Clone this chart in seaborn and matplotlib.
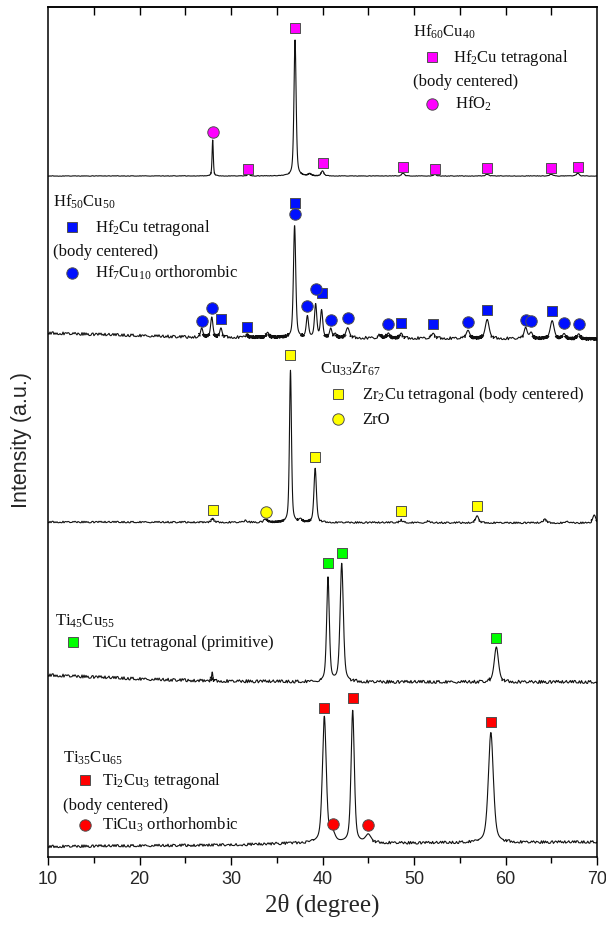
import numpy as np
import pandas as pd
import matplotlib
matplotlib.use("Agg")
import matplotlib.pyplot as plt
import seaborn as sns

# ---------------------------------------------------------------- data
two_theta = np.round(np.arange(10.0, 70.0001, 0.02), 3)

# Hf60Cu40
hf60_bg_pos = [10, 70]
hf60_bg = [681, 681]
hf60_pos = [28.0, 31.9, 37.0, 38.6, 40.0, 48.8, 52.3, 58.0, 65.0, 67.9]
hf60_int = [36, 2, 136, 2, 5, 3, 1.5, 2, 2, 3]
hf60_fwhm = [0.16, 0.3, 0.28, 0.4, 0.35, 0.35, 0.35, 0.35, 0.35, 0.35]
hf60_sq_x = [31.9, 37.0, 40.0, 48.8, 52.3, 58.0, 65.0, 67.9]
hf60_sq_y = [688, 829, 694, 690, 688, 689, 689, 690]
hf60_ci_x = [28.0]
hf60_ci_y = [725]

# Hf50Cu50
hf50_bg_pos = [10, 25, 45, 70]
hf50_bg = [524, 520, 519, 518]
hf50_pos = [26.8, 27.9, 28.9, 31.7, 34.0, 36.95, 38.35, 39.25, 39.9, 40.9, 41.4,
            42.75, 46.3, 47.2, 48.6, 52.1, 55.9, 58.0, 62.2, 62.8, 65.1, 66.4, 68.0]
hf50_int = [9, 20, 9, 3, 5, 112, 21, 33, 27, 9, 4,
            10, 3, 5, 5, 5, 8, 19, 11, 6, 18, 5, 5]
hf50_fwhm = [0.3, 0.3, 0.3, 0.3, 0.35, 0.3, 0.3, 0.3, 0.3, 0.3, 0.3,
             0.45, 0.4, 0.35, 0.35, 0.4, 0.45, 0.5, 0.4, 0.4, 0.5, 0.4, 0.4]
hf50_sq_x = [28.9, 31.7, 36.95, 39.9, 48.6, 52.1, 58.0, 65.1]
hf50_sq_y = [538, 530, 654, 564, 534, 533, 547, 546]
hf50_ci_x = [26.8, 27.9, 36.95, 38.35, 39.25, 40.9, 42.75, 47.2, 55.9, 62.2, 62.8, 66.4, 68.0]
hf50_ci_y = [536, 549, 643, 551, 568, 537, 539, 533, 535, 537, 536, 534, 533]

# Cu33Zr67
zr_bg_pos = [10, 70]
zr_bg = [335, 334]
zr_pos = [28.0, 31.6, 33.8, 36.5, 37.6, 39.2, 48.6, 51.5, 56.9, 64.3, 66.8, 69.7]
zr_int = [4, 2, 3, 152, 3, 54, 3, 1.5, 7, 4, 1.5, 8]
zr_fwhm = [0.35, 0.4, 0.5, 0.26, 0.4, 0.32, 0.35, 0.35, 0.4, 0.4, 0.35, 0.4]
zr_sq_x = [28.0, 36.5, 39.2, 48.6, 56.9]
zr_sq_y = [347, 502, 400, 346, 351]
zr_ci_x = [33.8]
zr_ci_y = [345]

# Ti45Cu55
ti45_bg_pos = [10, 20, 28, 40, 70]
ti45_bg = [182, 178, 176, 175, 175]
ti45_pos = [27.95, 40.6, 42.1, 59.0]
ti45_int = [9, 104, 118, 35]
ti45_fwhm = [0.15, 0.35, 0.42, 0.55]
ti45_sq_x = [40.6, 42.1, 59.0]
ti45_sq_y = [294, 304, 219]

# Ti35Cu65
ti35_bg_pos = [10, 30, 38, 50, 70]
ti35_bg = [10.5, 12, 14, 14, 15]
ti35_pos = [40.2, 41.1, 43.3, 45.0, 58.4]
ti35_int = [126, 9, 132, 8, 110]
ti35_fwhm = [0.5, 0.6, 0.42, 0.7, 0.65]
ti35_sq_x = [40.2, 43.3, 58.4]
ti35_sq_y = [149, 159, 135]
ti35_ci_x = [41.1, 45.0]
ti35_ci_y = [33, 32]


def background(x, bg_pos, bg):
    return np.interp(x, bg_pos, bg).astype(float)


def profile(x, bg_pos, bg, pos, inten, fwhm, eta=0.5):
    """Background plus pseudo-Voigt reflections."""
    y = background(x, bg_pos, bg)
    for p, h, w in zip(pos, inten, fwhm):
        d = (x - p) / (w / 2.0)
        y += h * (eta / (1.0 + d ** 2) + (1 - eta) * np.exp(-np.log(2) * d ** 2))
    return y


# (name, background, profile, counting-noise amplitude in px)
patterns = [
    ("Hf60Cu40", background(two_theta, hf60_bg_pos, hf60_bg),
     profile(two_theta, hf60_bg_pos, hf60_bg, hf60_pos, hf60_int, hf60_fwhm), 0.25),
    ("Hf50Cu50", background(two_theta, hf50_bg_pos, hf50_bg),
     profile(two_theta, hf50_bg_pos, hf50_bg, hf50_pos, hf50_int, hf50_fwhm), 1.4),
    ("Cu33Zr67", background(two_theta, zr_bg_pos, zr_bg),
     profile(two_theta, zr_bg_pos, zr_bg, zr_pos, zr_int, zr_fwhm), 0.8),
    ("Ti45Cu55", background(two_theta, ti45_bg_pos, ti45_bg),
     profile(two_theta, ti45_bg_pos, ti45_bg, ti45_pos, ti45_int, ti45_fwhm), 1.5),
    ("Ti35Cu65", background(two_theta, ti35_bg_pos, ti35_bg),
     profile(two_theta, ti35_bg_pos, ti35_bg, ti35_pos, ti35_int, ti35_fwhm), 1.3),
]

MAGENTA, BLUE, YELLOW, GREEN, RED = "#ff00ff", "#0010ff", "#ffff00", "#00ff00", "#ff0000"
markers = [
    (hf60_sq_x, hf60_sq_y, "s", MAGENTA), (hf60_ci_x, hf60_ci_y, "o", MAGENTA),
    (hf50_sq_x, hf50_sq_y, "s", BLUE), (hf50_ci_x, hf50_ci_y, "o", BLUE),
    (zr_sq_x, zr_sq_y, "s", YELLOW), (zr_ci_x, zr_ci_y, "o", YELLOW),
    (ti45_sq_x, ti45_sq_y, "s", GREEN),
    (ti35_sq_x, ti35_sq_y, "s", RED), (ti35_ci_x, ti35_ci_y, "o", RED),
]

# ---------------------------------------------------------------- style
sns.set_theme(style="ticks")
plt.rcParams.update({
    "font.family": ["Liberation Serif", "DejaVu Serif"],
    "mathtext.fontset": "custom",
    "mathtext.rm": "Liberation Serif",
    "mathtext.it": "Liberation Serif:italic",
    "mathtext.bf": "Liberation Serif:bold",
    "axes.linewidth": 1.1,
    "axes.edgecolor": "black",
})
SANS = ["Liberation Sans", "DejaVu Sans"]

fig = plt.figure(figsize=(6.06, 9.32), dpi=100)
ax = fig.add_axes([48 / 606, 1 - 857 / 932, 549 / 606, 850 / 932])


def dilate(mask, n):
    return np.convolve(mask.astype(int), np.ones(2 * n + 1, int), mode="same") > 0


def draw_runs(mask, x, y, noise):
    """Draw contiguous runs of the masked curve, optionally with a noisy stroke."""
    seg = np.cumsum(np.r_[0, np.diff(mask.astype(int)) != 0])
    df = pd.DataFrame({"two_theta": x, "intensity": y, "seg": seg})[mask]
    n0 = len(ax.lines)
    sns.lineplot(data=df, x="two_theta", y="intensity", units="seg", ax=ax,
                 color="#111111", lw=0.8, estimator=None, sort=False)
    if noise:
        for ln in ax.lines[n0:]:
            ln.set_sketch_params(scale=noise, length=1.2, randomness=3)


for name, bg, y, noise in patterns:
    reflex = (y - bg) > 3.0
    draw_runs(dilate(reflex, 2), two_theta, y, 0)      # reflections: clean stroke
    draw_runs(dilate(~reflex, 1), two_theta, y, noise)  # background: noisy stroke

SQ_SIZE, CI_SIZE = 46, 68
for xs, ys, mk, col in markers:
    sns.scatterplot(x=xs, y=ys, ax=ax, marker=mk, color=col,
                    s=SQ_SIZE if mk == "s" else CI_SIZE,
                    edgecolor="#505050", linewidth=0.7, zorder=5, legend=False)

ax.set_xlim(10, 70)
ax.set_ylim(0, 850)
ax.set_yticks([])
ax.set_xticks(np.arange(10, 71, 10))
ax.set_xticks(np.arange(15, 70, 10), minor=True)
ax.tick_params(axis="x", which="major", direction="out", length=6, width=1.0,
               labelsize=13, pad=4, color="black")
ax.tick_params(axis="x", which="minor", direction="out", length=4, width=1.0, color="black")
for lab in ax.get_xticklabels():
    lab.set_family(SANS)
ax.set_xlabel("2θ (degree)", fontsize=18, labelpad=4)
ax.set_ylabel("")
fig.text(22 / 606, 1 - 440 / 932, "Intensity (a.u.)", rotation=90, ha="center",
         va="center", fontsize=15.5, family=SANS)

top = ax.secondary_xaxis("top")
top.set_xticks(np.arange(15, 70, 5))
top.tick_params(direction="in", length=6, width=1.0, labeltop=False, color="black")

# ---------------------------------------------------------------- phase keys
def canvas(x, y):
    return x / 606, 1 - y / 932


TXT = dict(fontsize=12, ha="left", va="baseline", transform=fig.transFigure, color="#111111")


def key(x, y, mk, col):
    fx, fy = canvas(x, y)
    fig.add_artist(plt.Line2D([fx], [fy], marker=mk, color=col, markeredgecolor="#505050",
                              markeredgewidth=0.7, ms=6.7 if mk == "s" else 8.2,
                              transform=fig.transFigure, ls="none"))


def label(x, y, s):
    fx, fy = canvas(x, y + 5)
    fig.text(fx, fy, s, **TXT)


# Hf60Cu40
label(413, 32, r"Hf$_{\mathrm{60}}$Cu$_{\mathrm{40}}$")
key(432, 57, "s", MAGENTA)
label(453, 57, r"Hf$_{\mathrm{2}}$Cu tetragonal")
label(413, 81, "(body centered)")
key(432, 104, "o", MAGENTA)
label(455, 104, r"HfO$_{\mathrm{2}}$")

# Hf50Cu50
label(53, 202, r"Hf$_{\mathrm{50}}$Cu$_{\mathrm{50}}$")
key(72, 227, "s", BLUE)
label(95, 227, r"Hf$_{\mathrm{2}}$Cu tetragonal")
label(53, 251, "(body centered)")
key(72, 273, "o", BLUE)
label(95, 273, r"Hf$_{\mathrm{7}}$Cu$_{\mathrm{10}}$ orthorombic")

# Cu33Zr67
label(320, 369, r"Cu$_{\mathrm{33}}$Zr$_{\mathrm{67}}$")
key(338, 394, "s", YELLOW)
label(362, 394, r"Zr$_{\mathrm{2}}$Cu tetragonal (body centered)")
key(338, 419, "o", YELLOW)
label(362, 419, "ZrO")

# Ti45Cu55
label(55, 621, r"Ti$_{\mathrm{45}}$Cu$_{\mathrm{55}}$")
key(73, 642, "s", GREEN)
label(93, 642, "TiCu tetragonal (primitive)")

# Ti35Cu65
label(63, 758, r"Ti$_{\mathrm{35}}$Cu$_{\mathrm{65}}$")
key(85, 780, "s", RED)
label(102, 780, r"Ti$_{\mathrm{2}}$Cu$_{\mathrm{3}}$ tetragonal")
label(63, 805, "(body centered)")
key(85, 825, "o", RED)
label(102, 825, r"TiCu$_{\mathrm{3}}$ orthorhombic")

fig.savefig("out.png", dpi=100, facecolor="white")
